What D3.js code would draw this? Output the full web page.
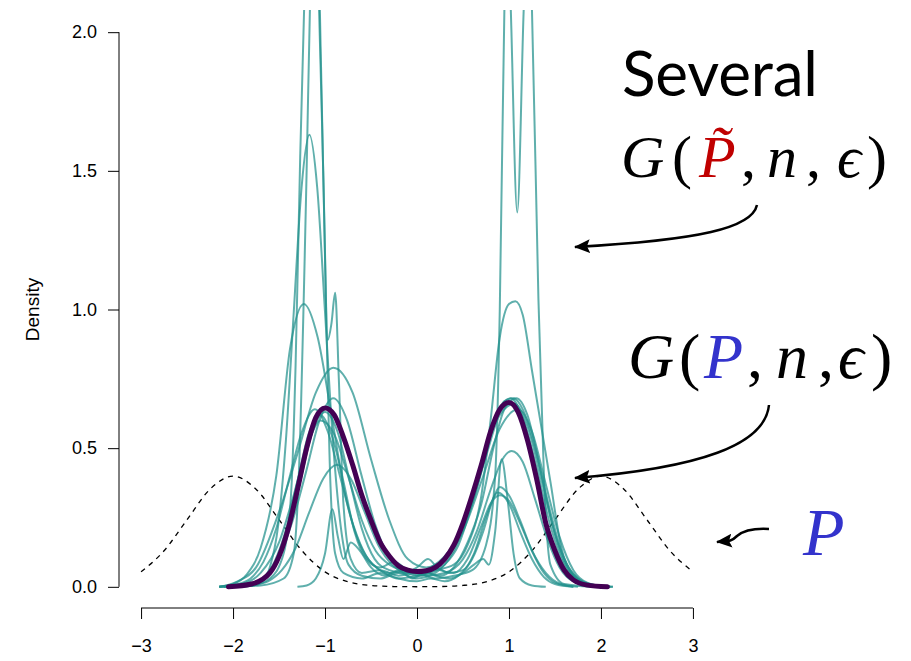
<!DOCTYPE html>
<html>
<head>
<meta charset="utf-8">
<script src="https://cdn.jsdelivr.net/npm/d3@7"></script>
<style>
  body { margin: 0; background: #fff; }
  svg { display: block; }
  .math { font-family: "Liberation Serif", "DejaVu Serif", serif; font-style: italic; }
  .upright { font-style: normal; }
</style>
</head>
<body>
<svg id="chart" width="911" height="661"></svg>
<script>
// Axis ticks
const xTicks = [-3, -2, -1, 0, 1, 2, 3];
const yTicks = [0, 0.5, 1, 1.5, 2];

// True density P (dashed)
const trueDensity = [
    [-3, 0.054], [-2.75, 0.13], [-2.5, 0.242], [-2.25, 0.352], [-2, 0.399],
    [-1.75, 0.352], [-1.5, 0.242], [-1.25, 0.13], [-1, 0.054], [-0.75, 0.018],
    [-0.5, 0.005], [-0.25, 0.001], [0, 0.0003], [0.25, 0.001], [0.5, 0.005],
    [0.75, 0.018], [1, 0.054], [1.25, 0.13], [1.5, 0.242], [1.75, 0.352],
    [2, 0.399], [2.25, 0.352], [2.5, 0.242], [2.75, 0.13], [3, 0.054]
];

// G(P, n, eps) (thick purple)
const meanCurve = [
    [-2.05, 0], [-1.8, 0.01], [-1.6, 0.05], [-1.4, 0.21], [-1.3, 0.35], [-1.2, 0.5],
    [-1.1, 0.61], [-1.0, 0.645], [-0.9, 0.62], [-0.8, 0.54], [-0.7, 0.44], [-0.6, 0.33],
    [-0.5, 0.24], [-0.4, 0.16], [-0.3, 0.11], [-0.2, 0.075], [-0.1, 0.06], [0, 0.055],
    [0.1, 0.058], [0.2, 0.07], [0.3, 0.1], [0.4, 0.15], [0.5, 0.23], [0.6, 0.33],
    [0.7, 0.44], [0.8, 0.56], [0.9, 0.64], [1.0, 0.665], [1.1, 0.63], [1.2, 0.53],
    [1.3, 0.39], [1.4, 0.23], [1.5, 0.13], [1.6, 0.06], [1.7, 0.025], [1.85, 0.006], [2.07, 0]
];

// Several G(P~, n, eps) (teal)
const simA = [
    [-2.15, 0], [-1.8, 0.005], [-1.6, 0.03], [-1.45, 0.12], [-1.37, 0.33], [-1.32, 0.8],
    [-1.27, 1.55], [-1.21, 2.3], [-1.135, 2.9], [-1.07, 2.3], [-1.02, 1.5], [-0.97, 0.89],
    [-0.93, 0.95], [-0.89, 1.06], [-0.85, 0.75], [-0.8, 0.3], [-0.72, 0.1], [-0.6, 0.05],
    [-0.4, 0.06], [-0.2, 0.04], [0, 0.05], [0.2, 0.03], [0.4, 0.04], [0.6, 0.06],
    [0.75, 0.15], [0.85, 0.4], [0.9, 1.0], [0.95, 2.08], [0.985, 2.45], [1.02, 2.08],
    [1.09, 1.35], [1.16, 2.08], [1.205, 2.45], [1.25, 2.08], [1.32, 1.04], [1.38, 0.4],
    [1.45, 0.08], [1.6, 0.01], [1.9, 0]
];
const simB = [
    [-2.1, 0], [-1.7, 0.005], [-1.45, 0.03], [-1.34, 0.12], [-1.29, 0.36], [-1.2, 1.5],
    [-1.16, 2.15], [-1.115, 2.5], [-1.07, 2.15], [-1.02, 1.5], [-0.94, 0.36], [-0.89, 0.12],
    [-0.8, 0.05], [-0.6, 0.03], [-0.4, 0.05], [-0.2, 0.03], [0, 0.04], [0.2, 0.06],
    [0.4, 0.08], [0.55, 0.15], [0.7, 0.33], [0.8, 0.6], [0.9, 0.9], [1.0, 1.02],
    [1.07, 1.03], [1.15, 0.98], [1.25, 0.78], [1.34, 0.6], [1.45, 0.38], [1.57, 0.14],
    [1.7, 0.04], [1.85, 0.01], [2.1, 0]
];
const simC = [
    [-2.0, 0], [-1.78, 0.005], [-1.68, 0.02], [-1.6, 0.07], [-1.51, 0.22], [-1.425, 0.53],
    [-1.34, 0.99], [-1.255, 1.44], [-1.17, 1.63], [-1.085, 1.44], [-1.0, 0.99], [-0.915, 0.53],
    [-0.83, 0.22], [-0.745, 0.08], [-0.6, 0.04], [-0.4, 0.03], [-0.2, 0.05], [0, 0.03],
    [0.2, 0.05], [0.4, 0.13], [0.55, 0.25], [0.7, 0.42], [0.85, 0.6], [0.95, 0.67],
    [1.05, 0.68], [1.15, 0.64], [1.3, 0.48], [1.45, 0.27], [1.6, 0.1], [1.75, 0.03],
    [1.9, 0.006], [2.1, 0]
];
const simD = [
    [-2.15, 0], [-2.0, 0.01], [-1.85, 0.045], [-1.7, 0.14], [-1.53, 0.4], [-1.38, 0.86],
    [-1.23, 1.02], [-1.08, 0.9], [-0.93, 0.62], [-0.78, 0.33], [-0.63, 0.16], [-0.48, 0.08],
    [-0.3, 0.05], [-0.1, 0.06], [0.1, 0.04], [0.3, 0.05], [0.5, 0.1], [0.65, 0.2],
    [0.8, 0.35], [0.93, 0.46], [1.03, 0.49], [1.15, 0.45], [1.28, 0.32], [1.42, 0.17],
    [1.55, 0.07], [1.7, 0.02], [1.9, 0.004], [2.1, 0]
];
const simE = [
    [-2.15, 0], [-1.95, 0.02], [-1.75, 0.07], [-1.5, 0.27], [-1.3, 0.48], [-1.1, 0.7],
    [-0.91, 0.79], [-0.7, 0.7], [-0.5, 0.46], [-0.3, 0.24], [-0.1, 0.1], [0.1, 0.07],
    [0.3, 0.1], [0.5, 0.2], [0.7, 0.38], [0.9, 0.57], [1.1, 0.64], [1.25, 0.56],
    [1.4, 0.37], [1.55, 0.18], [1.7, 0.06], [1.85, 0.015], [2.05, 0]
];
const simF = [
    [-2.0, 0], [-1.8, 0.01], [-1.66, 0.03], [-1.51, 0.1], [-1.36, 0.23], [-1.21, 0.41],
    [-1.06, 0.6], [-0.91, 0.68], [-0.76, 0.6], [-0.61, 0.41], [-0.46, 0.23], [-0.31, 0.11],
    [-0.15, 0.06], [0, 0.04], [0.15, 0.05], [0.3, 0.08], [0.45, 0.15], [0.6, 0.3],
    [0.75, 0.48], [0.88, 0.63], [1.02, 0.68], [1.15, 0.61], [1.3, 0.43], [1.45, 0.22],
    [1.6, 0.08], [1.75, 0.025], [1.95, 0.003], [2.1, 0]
];
const simG = [
    [-2.15, 0], [-1.95, 0.01], [-1.81, 0.03], [-1.67, 0.09], [-1.53, 0.21], [-1.39, 0.39],
    [-1.25, 0.56], [-1.11, 0.64], [-0.97, 0.56], [-0.83, 0.39], [-0.69, 0.22], [-0.55, 0.11],
    [-0.4, 0.06], [-0.2, 0.03], [0, 0.02], [0.15, 0.03], [0.3, 0.02], [0.45, 0.04],
    [0.6, 0.1], [0.72, 0.2], [0.82, 0.31], [0.9, 0.36], [1.0, 0.33], [1.12, 0.24],
    [1.25, 0.13], [1.38, 0.05], [1.5, 0.015], [1.7, 0]
];
const simH = [
    [-2.0, 0], [-1.8, 0.01], [-1.68, 0.03], [-1.55, 0.09], [-1.43, 0.2], [-1.3, 0.38],
    [-1.18, 0.55], [-1.05, 0.62], [-0.93, 0.55], [-0.8, 0.38], [-0.68, 0.2], [-0.55, 0.1],
    [-0.4, 0.07], [-0.25, 0.09], [-0.1, 0.06], [0.05, 0.04], [0.2, 0.07], [0.35, 0.05],
    [0.5, 0.06], [0.62, 0.12], [0.75, 0.25], [0.88, 0.34], [1.0, 0.3], [1.12, 0.2],
    [1.25, 0.1], [1.38, 0.035], [1.5, 0.01], [1.7, 0]
];
const simI = [
    [-1.95, 0], [-1.72, 0.01], [-1.62, 0.02], [-1.47, 0.06], [-1.32, 0.14], [-1.17, 0.27],
    [-1.02, 0.39], [-0.87, 0.44], [-0.72, 0.39], [-0.57, 0.27], [-0.42, 0.15], [-0.27, 0.08],
    [-0.12, 0.05], [0.05, 0.06], [0.2, 0.04], [0.35, 0.03], [0.5, 0.05], [0.62, 0.08],
    [0.72, 0.1], [0.78, 0.08], [0.85, 0.2], [0.92, 0.46], [0.99, 0.3], [1.05, 0.12],
    [1.12, 0.03], [1.25, 0.005], [1.4, 0]
];
const simJ = [
    [-1.3, 0], [-1.2, 0.005], [-1.1, 0.03], [-1.0, 0.12], [-0.92, 0.28], [-0.86, 0.18],
    [-0.8, 0.1], [-0.72, 0.16], [-0.62, 0.13], [-0.5, 0.07], [-0.35, 0.04], [-0.2, 0.06],
    [-0.05, 0.03], [0.1, 0.05], [0.25, 0.04], [0.4, 0.07], [0.55, 0.16], [0.7, 0.3],
    [0.83, 0.5], [0.95, 0.64], [1.08, 0.68], [1.2, 0.62], [1.33, 0.44], [1.46, 0.24],
    [1.6, 0.09], [1.75, 0.025], [1.95, 0.004], [2.13, 0]
];
const simK = [
    [-2.1, 0], [-1.85, 0.01], [-1.67, 0.027], [-1.54, 0.085], [-1.4, 0.21], [-1.27, 0.38],
    [-1.135, 0.56], [-1.0, 0.63], [-0.865, 0.56], [-0.73, 0.38], [-0.6, 0.21], [-0.46, 0.1],
    [-0.3, 0.06], [-0.15, 0.05], [0, 0.07], [0.12, 0.1], [0.25, 0.06], [0.4, 0.05],
    [0.55, 0.1], [0.7, 0.22], [0.8, 0.3], [0.9, 0.33], [1.0, 0.31], [1.12, 0.23],
    [1.25, 0.13], [1.4, 0.05], [1.55, 0.012], [1.75, 0]
];
const simL = [
    [-2.15, 0], [-1.9, 0.01], [-1.7, 0.05], [-1.5, 0.16], [-1.35, 0.32], [-1.2, 0.5],
    [-1.05, 0.6], [-0.9, 0.55], [-0.75, 0.4], [-0.6, 0.24], [-0.45, 0.13], [-0.3, 0.08],
    [-0.15, 0.06], [0, 0.05], [0.15, 0.07], [0.3, 0.11], [0.45, 0.18], [0.6, 0.3],
    [0.75, 0.47], [0.9, 0.62], [1.06, 0.66], [1.2, 0.58], [1.35, 0.39], [1.5, 0.19],
    [1.65, 0.07], [1.8, 0.02], [2.0, 0.003], [2.13, 0]
];
const simCurves = [simA, simB, simC, simD, simE, simF, simG, simH, simI, simJ, simK, simL];

// Setup
const svg = d3.select('#chart');
const defs = svg.append('defs');

// R-style plot region (4% padding around the data range)
const x = d3.scaleLinear().domain([-3.24, 3.24]).range([119, 715]);
const y = d3.scaleLinear().domain([-0.08, 2.08]).range([609, 10]);

defs.append('clipPath')
    .attr('id', 'plot-clip')
    .append('rect')
    .attr('x', x.range()[0])
    .attr('y', y.range()[1])
    .attr('width', x.range()[1] - x.range()[0])
    .attr('height', y.range()[0] - y.range()[1]);

const line = d3.line()
    .x(d => x(d[0]))
    .y(d => y(d[1]))
    .curve(d3.curveMonotoneX);

const plot = svg.append('g').attr('clip-path', 'url(#plot-clip)');

// Dashed true density
plot.append('path')
    .datum(trueDensity)
    .attr('d', line)
    .attr('fill', 'none')
    .attr('stroke', '#000')
    .attr('stroke-width', 1.3)
    .attr('stroke-dasharray', '5,5');

// Teal simulated densities
plot.append('g')
    .selectAll('path')
    .data(simCurves)
    .join('path')
    .attr('d', line)
    .attr('fill', 'none')
    .attr('stroke', '#21908C')
    .attr('stroke-opacity', 0.72)
    .attr('stroke-width', 2);

// Thick purple curve on top
plot.append('path')
    .datum(meanCurve)
    .attr('d', line)
    .attr('fill', 'none')
    .attr('stroke', '#440154')
    .attr('stroke-width', 5)
    .attr('stroke-linecap', 'round');

// Axes (R style: line spans first to last tick only)
const axisFont = '"Liberation Sans", Arial, sans-serif';

const yAxis = svg.append('g')
    .attr('transform', `translate(${x.range()[0]},0)`)
    .call(d3.axisLeft(y).tickValues(yTicks).tickFormat(d3.format('.1f')).tickSize(11).tickPadding(11));
yAxis.select('.domain').remove();
yAxis.append('line')
    .attr('y1', y(yTicks[0])).attr('y2', y(yTicks[yTicks.length - 1]))
    .attr('stroke', '#000');

const xAxis = svg.append('g')
    .attr('transform', `translate(0,${y.range()[0] - 1})`)
    .call(d3.axisBottom(x).tickValues(xTicks).tickFormat(d3.format('d')).tickSize(11).tickPadding(20));
xAxis.select('.domain').remove();
xAxis.append('line')
    .attr('x1', x(xTicks[0])).attr('x2', x(xTicks[xTicks.length - 1]))
    .attr('stroke', '#000');

svg.selectAll('.tick text')
    .style('font-family', axisFont)
    .style('font-size', '18px')
    .attr('fill', '#000');
svg.selectAll('.tick line').attr('stroke', '#000');

svg.append('text')
    .attr('transform', `translate(39,${y(1)}) rotate(-90)`)
    .attr('text-anchor', 'middle')
    .style('font-family', axisFont)
    .style('font-size', '19px')
    .text('Density');

// Annotations
svg.append('text')
    .attr('x', 622)
    .attr('y', 96)
    .attr('textLength', 196)
    .style('font-family', 'Lato, "Open Sans", sans-serif')
    .style('font-size', '62px')
    .text('Several');

function mathLabel(pieces, baseline, size) {
    pieces.forEach(p => {
        svg.append('text')
            .attr('class', p.up ? 'math upright' : 'math')
            .attr('x', p.x)
            .attr('y', baseline)
            .attr('fill', p.c || '#000')
            .style('font-size', size + 'px')
            .text(p.t);
    });
}

mathLabel([
    { t: 'G', x: 621 }, { t: '(', x: 672, up: true }, { t: 'P\u0303', x: 699, c: '#c00000' },
    { t: ',', x: 741, up: true }, { t: 'n', x: 767 }, { t: ',', x: 806, up: true },
    { t: '\u03f5', x: 837 }, { t: ')', x: 867, up: true }
], 177, 60);

mathLabel([
    { t: 'G', x: 628 }, { t: '(', x: 679, up: true }, { t: 'P', x: 704, c: '#3333cc' },
    { t: ',', x: 747, up: true }, { t: 'n', x: 776 }, { t: ',', x: 818, up: true },
    { t: '\u03f5', x: 838 }, { t: ')', x: 871, up: true }
], 378, 64);

mathLabel([{ t: 'P', x: 803, c: '#3333cc' }], 555, 68);

// Arrows
defs.append('marker')
    .attr('id', 'arrowhead')
    .attr('viewBox', '0 -7 16 14')
    .attr('refX', 15)
    .attr('refY', 0)
    .attr('markerWidth', 16)
    .attr('markerHeight', 14)
    .attr('markerUnits', 'userSpaceOnUse')
    .attr('orient', 'auto')
    .append('path')
    .attr('d', 'M0,-7L16,0L0,7L3,0Z')
    .attr('fill', '#000');

const arrows = [
    'M757,205 C752,228 700,240 575,247',
    'M769,405 C765,445 700,468 575,478',
    'M769,529 C752,528 743,531 737,536 C731,542 728,541 717,542'
];
svg.append('g')
    .selectAll('path')
    .data(arrows)
    .join('path')
    .attr('d', d => d)
    .attr('fill', 'none')
    .attr('stroke', '#000')
    .attr('stroke-width', 2.5)
    .attr('marker-end', 'url(#arrowhead)');
</script>
</body>
</html>
